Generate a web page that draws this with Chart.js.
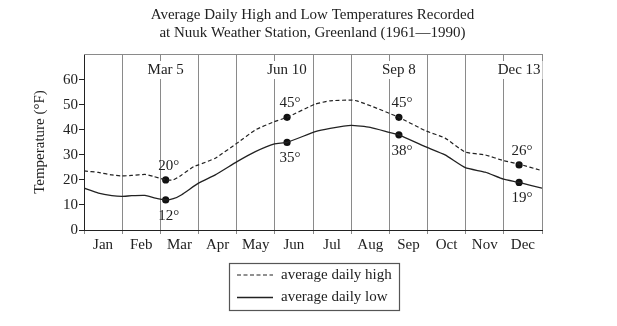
<!DOCTYPE html>
<html lang="en">
<head>
  <meta charset="UTF-8"/>
  <title>Nuuk Average Daily High and Low Temperatures</title>
  <style>
    html, body { margin: 0; padding: 0; background: #fff; }
    #wrap { width: 617px; height: 326px; position: relative; }
  </style>
  <script src="https://cdn.jsdelivr.net/npm/chart.js"></script>
</head>
<body>
  <div id="wrap"><canvas id="chart"></canvas></div>

  <script>
    // ---- data (x values are in months from Jan 1, each month one unit) ----
    const months = ['Jan','Feb','Mar','Apr','May','Jun','Jul','Aug','Sep','Oct','Nov','Dec'];
    const yTicks = [0, 10, 20, 30, 40, 50, 60];

    const highX = [0, 0.38, 0.73, 0.99, 1.25, 1.60, 1.82, 2.14, 2.34, 2.56, 2.87, 3.0, 3.44, 4.01, 4.49, 4.99, 5.32, 6.06, 6.45, 7.0, 7.15, 7.68, 8.0, 8.25, 8.94, 9.46, 9.99, 10.51, 10.99, 11.40, 12];
    const highT = [23.6, 23.0, 22.0, 21.6, 21.8, 22.2, 21.4, 20.0, 20.0, 22.0, 25.3, 26.0, 28.7, 34.7, 40.0, 43.3, 45.0, 50.3, 51.6, 51.9, 51.6, 48.6, 46.6, 45.0, 39.7, 36.7, 31.1, 30.0, 27.7, 26.3, 23.7];

    const lowX = [0, 0.38, 0.73, 0.99, 1.25, 1.60, 1.87, 2.14, 2.34, 2.56, 3.0, 3.44, 4.01, 4.49, 4.99, 5.32, 6.06, 6.45, 7.0, 7.5, 8.0, 8.25, 8.94, 9.46, 9.99, 10.51, 10.99, 11.40, 12];
    const lowT = [16.7, 14.7, 13.7, 13.4, 13.7, 13.8, 12.7, 12.0, 12.5, 14.1, 18.7, 22.0, 27.3, 31.3, 34.4, 35.0, 39.3, 40.6, 41.8, 41.0, 39.0, 38.0, 33.3, 30.0, 24.9, 23.1, 20.3, 19.0, 16.7];

    const markDates = ['Mar 5', 'Jun 10', 'Sep 8', 'Dec 13'];
    const markX = [2.14, 5.32, 8.25, 11.40];
    const markHigh = [20, 45, 45, 26];
    const markLow = [12, 35, 38, 19];

    const ink = '#222';
    const serif = "'Liberation Serif', 'DejaVu Serif', serif";
    Chart.defaults.font.family = serif;
    Chart.defaults.color = ink;

    const pts = (xs, ys) => xs.map((x, i) => ({ x: x, y: ys[i] }));

    // month edges get grid lines, month middles get the labels
    const xTickVals = [];
    for (let m = 0; m <= 12; m++) {
      xTickVals.push(m);
      if (m < 12) xTickVals.push(m + 0.5);
    }

    // top frame, date labels, value labels and the boxed legend
    const decor = {
      id: 'decor',
      afterDraw(chart) {
        const { ctx, chartArea: a, scales } = chart;
        ctx.save();
        ctx.strokeStyle = '#8a8a8a';
        ctx.lineWidth = 1;
        ctx.beginPath();
        ctx.moveTo(a.left, a.top + 0.5);
        ctx.lineTo(a.right, a.top + 0.5);
        ctx.stroke();

        ctx.font = '15px ' + serif;
        ctx.fillStyle = ink;
        ctx.textBaseline = 'middle';

        markDates.forEach((d, i) => {
          const x = scales.x.getPixelForValue(markX[i]);
          const w = ctx.measureText(d).width;
          ctx.fillStyle = '#fff';
          ctx.fillRect(x - w / 2 - 2, a.top + 7, w + 4, 18);
          ctx.fillStyle = ink;
          ctx.textAlign = 'center';
          ctx.fillText(d, x, a.top + 16);
        });

        const hi = chart.getDatasetMeta(2).data;
        const lo = chart.getDatasetMeta(3).data;
        ctx.textAlign = 'left';
        hi.forEach((p, i) => {
          const s = String(markHigh[i]);
          const w = ctx.measureText(s).width;
          ctx.fillText(s + '°', p.x - w / 2, p.y - 14);
        });
        lo.forEach((p, i) => {
          const s = String(markLow[i]);
          const w = ctx.measureText(s).width;
          ctx.fillText(s + '°', p.x - w / 2, p.y + 16);
        });

        // legend
        const bx = 229.5, by = 263.5;
        ctx.strokeStyle = '#555';
        ctx.lineWidth = 1.2;
        ctx.strokeRect(bx, by, 170, 47);
        const rows = [275, 297.5];
        chart.data.datasets.slice(0, 2).forEach((ds, i) => {
          ctx.strokeStyle = ds.borderColor;
          ctx.lineWidth = ds.borderWidth;
          ctx.setLineDash(ds.borderDash || []);
          ctx.beginPath();
          ctx.moveTo(237, rows[i]);
          ctx.lineTo(273, rows[i]);
          ctx.stroke();
          ctx.setLineDash([]);
          ctx.fillStyle = ink;
          ctx.fillText(ds.label, 281, rows[i]);
        });
        ctx.restore();
      }
    };

    new Chart(document.getElementById('chart'), {
      type: 'line',
      data: {
        datasets: [
          { label: 'average daily high', data: pts(highX, highT), borderColor: ink, borderWidth: 1.2,
            borderDash: [4, 2.5], pointRadius: 0, fill: false, tension: 0.15 },
          { label: 'average daily low', data: pts(lowX, lowT), borderColor: ink, borderWidth: 1.3,
            pointRadius: 0, fill: false, tension: 0.15 },
          { type: 'scatter', data: pts(markX, markHigh), pointRadius: 3.6, backgroundColor: '#111',
            borderColor: '#111', borderWidth: 0 },
          { type: 'scatter', data: pts(markX, markLow), pointRadius: 3.6, backgroundColor: '#111',
            borderColor: '#111', borderWidth: 0 }
        ]
      },
      options: {
        responsive: true, maintainAspectRatio: false, animation: false,
        layout: { padding: { left: 8, right: 0, top: 0, bottom: 0 } },
        plugins: {
          legend: { display: false },
          tooltip: { enabled: false },
          title: {
            display: true,
            text: ['Average Daily High and Low Temperatures Recorded',
                   'at Nuuk Weather Station, Greenland (1961\u20141990)'],
            color: ink,
            font: { size: 15, weight: 'normal', lineHeight: 1.2 },
            padding: { top: 6, bottom: 12 }
          }
        },
        scales: {
          x: {
            type: 'linear', min: 0, max: 12,
            afterBuildTicks: s => { s.ticks = xTickVals.map(v => ({ value: v })); },
            afterFit: s => { s.height = 96; },
            ticks: {
              autoSkip: false, maxRotation: 0, padding: 2,
              font: { size: 15 }, color: ink,
              callback: v => Number.isInteger(v) ? '' : months[Math.floor(v)]
            },
            grid: {
              color: c => (c.tick && Number.isInteger(c.tick.value)) ? '#8a8a8a' : 'rgba(0,0,0,0)',
              tickLength: 4, lineWidth: 1
            },
            border: { color: ink, width: 1 }
          },
          y: {
            min: 0, max: 70.3,
            afterBuildTicks: s => { s.ticks = yTicks.map(v => ({ value: v })); },
            afterFit: s => { s.width = 76; },
            ticks: { padding: 1, font: { size: 15 }, color: ink },
            grid: { drawOnChartArea: false, tickLength: 5, color: ink },
            border: { color: ink, width: 1 },
            title: {
              display: true, text: 'Temperature (°F)', color: ink,
              font: { size: 15 }, padding: { top: 23, bottom: 0 }
            }
          },
          // empty right-hand box so the plot stops where the reference does
          yRight: {
            position: 'right', display: true,
            grid: { display: false }, border: { display: false },
            ticks: { display: false },
            afterFit: s => { s.width = 75; }
          }
        }
      },
      plugins: [decor]
    });
  </script>
</body>
</html>
